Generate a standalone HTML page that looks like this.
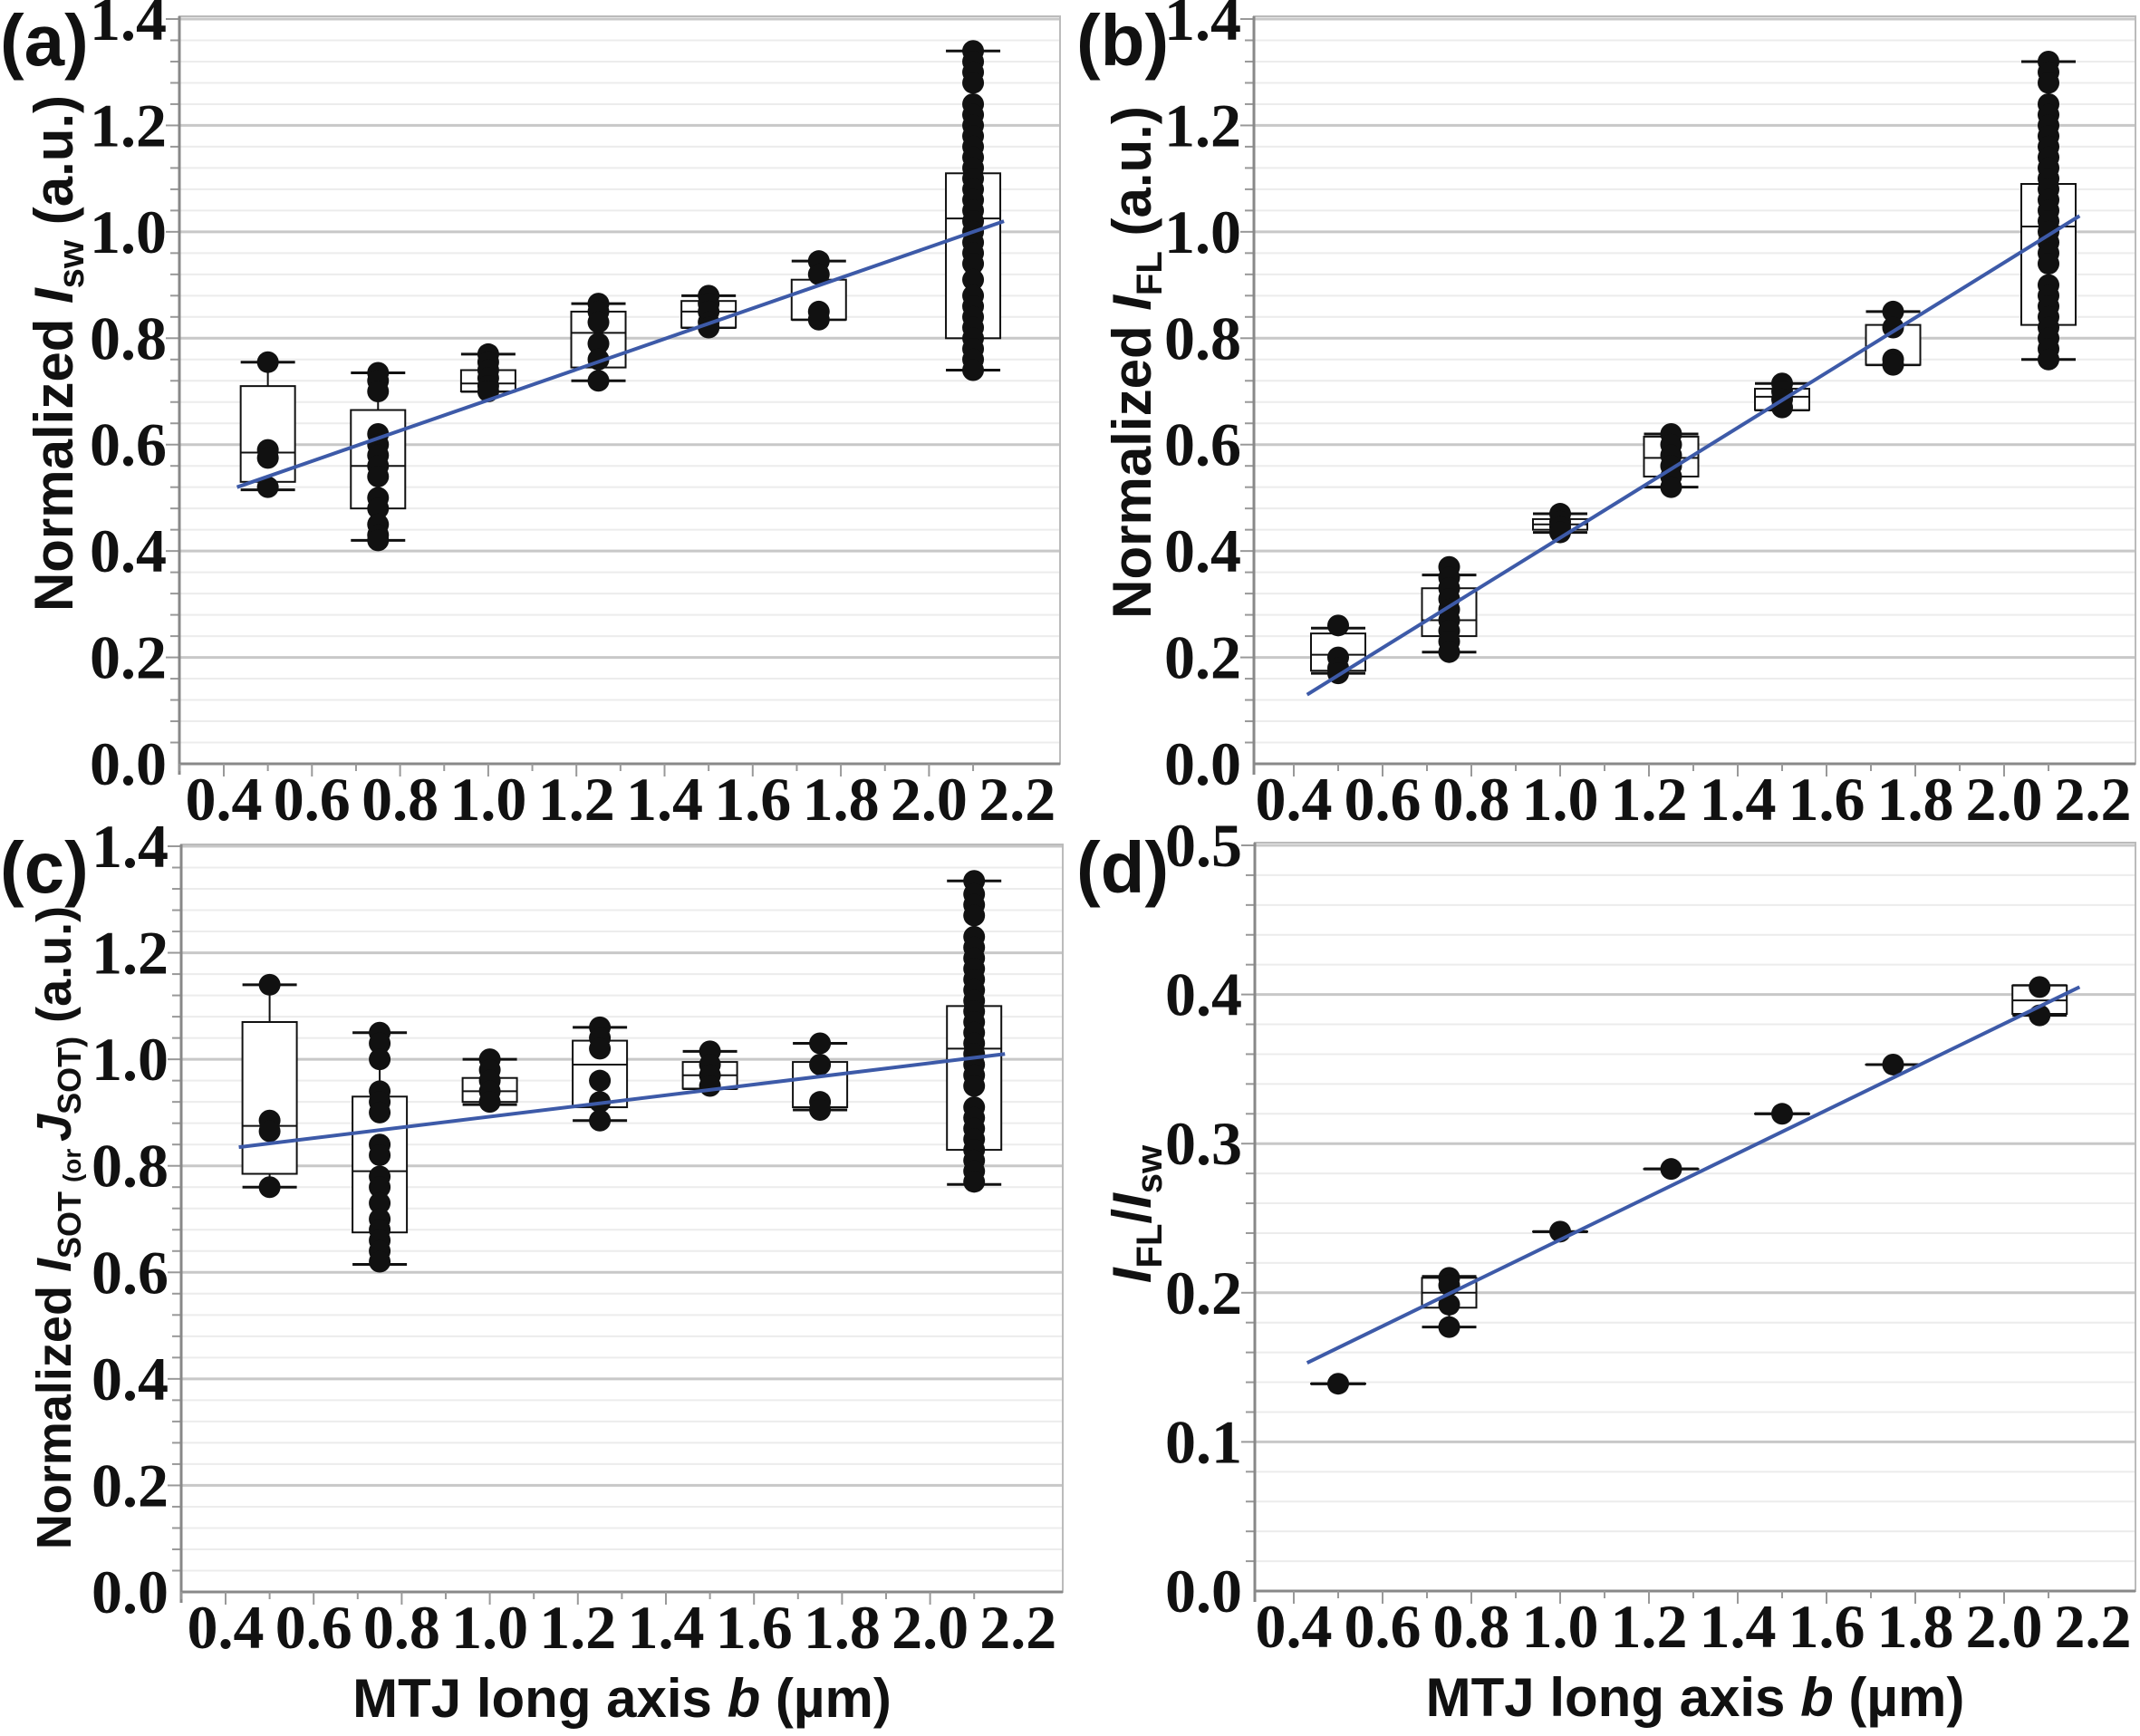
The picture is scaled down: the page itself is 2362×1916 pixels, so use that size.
<!DOCTYPE html>
<html><head><meta charset="utf-8"><style>
html,body{margin:0;padding:0;background:#fff;}
svg{display:block;}
.tk{font-family:"Liberation Serif",serif;font-weight:bold;font-size:68px;fill:#111;}
.tt{font-family:"Liberation Sans",sans-serif;font-weight:bold;font-size:60px;fill:#111;}
.pl{font-family:"Liberation Sans",sans-serif;font-weight:bold;font-size:80px;fill:#111;}
</style></head><body>
<svg id="fig" width="2362" height="1916" viewBox="0 0 2362 1916" xmlns="http://www.w3.org/2000/svg"></svg>
<script>
// x categories (µm)
const xA = [0.5, 0.75, 1.0, 1.25, 1.5, 1.75, 2.1];
const xD = [0.5, 0.75, 1.0, 1.25, 1.5, 1.75, 2.08];
// box stats [q1, median, q3, whiskerLow, whiskerHigh]
const boxA = [[0.53,0.585,0.71,0.515,0.755],[0.48,0.56,0.665,0.42,0.735],[0.70,0.715,0.74,0.70,0.77],[0.745,0.81,0.85,0.72,0.865],[0.82,0.85,0.87,0.82,0.88],[0.835,0.835,0.91,0.835,0.945],[0.80,1.025,1.11,0.74,1.34]];
const ptsA = [[0.755,0.59,0.575,0.52],[0.735,0.72,0.70,0.62,0.60,0.58,0.56,0.54,0.50,0.48,0.45,0.43,0.42],[0.77,0.755,0.74,0.725,0.71,0.70],[0.865,0.85,0.83,0.79,0.76,0.72],[0.88,0.865,0.85,0.83,0.82],[0.945,0.92,0.85,0.835],[1.34,1.32,1.30,1.28,1.24,1.22,1.20,1.18,1.16,1.14,1.12,1.10,1.08,1.06,1.04,1.02,1.00,0.98,0.96,0.94,0.91,0.88,0.86,0.84,0.82,0.80,0.78,0.76,0.74]];
const lineA = [[0.43,0.52],[2.17,1.02]];
const boxB = [[0.175,0.205,0.245,0.17,0.255],[0.24,0.27,0.33,0.21,0.355],[0.44,0.45,0.46,0.435,0.47],[0.54,0.575,0.615,0.52,0.62],[0.665,0.69,0.705,0.665,0.715],[0.75,0.75,0.825,0.75,0.85],[0.825,1.01,1.09,0.76,1.32]];
const ptsB = [[0.26,0.20,0.18,0.17],[0.37,0.35,0.33,0.31,0.29,0.27,0.25,0.23,0.21],[0.47,0.455,0.445,0.435],[0.62,0.60,0.58,0.56,0.54,0.52],[0.715,0.70,0.685,0.67],[0.85,0.82,0.76,0.75],[1.32,1.30,1.28,1.24,1.22,1.20,1.18,1.16,1.14,1.12,1.10,1.08,1.06,1.04,1.02,1.00,0.98,0.96,0.94,0.90,0.88,0.86,0.84,0.82,0.80,0.78,0.76]];
const lineB = [[0.43,0.13],[2.17,1.03]];
const boxC = [[0.785,0.875,1.07,0.76,1.14],[0.675,0.79,0.93,0.615,1.05],[0.92,0.94,0.965,0.915,1.0],[0.91,0.99,1.035,0.885,1.06],[0.945,0.97,0.995,0.945,1.015],[0.91,0.91,0.995,0.905,1.03],[0.83,1.02,1.10,0.765,1.335]];
const ptsC = [[1.14,0.885,0.865,0.76],[1.05,1.03,1.00,0.94,0.92,0.90,0.84,0.82,0.78,0.76,0.73,0.70,0.68,0.66,0.64,0.62],[1.0,0.98,0.96,0.94,0.92],[1.06,1.04,1.02,0.96,0.92,0.885],[1.015,0.99,0.97,0.95],[1.03,0.99,0.92,0.905],[1.335,1.31,1.29,1.27,1.23,1.21,1.19,1.17,1.15,1.13,1.11,1.09,1.07,1.05,1.03,1.01,0.99,0.97,0.95,0.91,0.89,0.87,0.85,0.83,0.81,0.79,0.77]];
const lineC = [[0.43,0.835],[2.17,1.01]];
const boxD = [[0.139,0.139,0.139,0.139,0.139],[0.19,0.20,0.21,0.177,0.211],[0.241,0.241,0.241,0.241,0.241],[0.283,0.283,0.283,0.283,0.283],[0.32,0.32,0.32,0.32,0.32],[0.353,0.353,0.353,0.353,0.353],[0.387,0.396,0.406,0.386,0.406]];
const ptsD = [[0.139],[0.21,0.205,0.192,0.177],[0.241],[0.283],[0.32],[0.353],[0.405,0.386]];
const lineD = [[0.43,0.153],[2.17,0.405]];
const xTicks = ["0.4","0.6","0.8","1.0","1.2","1.4","1.6","1.8","2.0","2.2"];
const yTicks14 = ["0.0","0.2","0.4","0.6","0.8","1.0","1.2","1.4"];
const yTicks05 = ["0.0","0.1","0.2","0.3","0.4","0.5"];

const NS="http://www.w3.org/2000/svg";
const svg=document.getElementById('fig');
function mk(tag,attrs,parent){const e=document.createElementNS(NS,tag);for(const k in attrs)e.setAttribute(k,attrs[k]);(parent||svg).appendChild(e);return e;}

function panel(o){
  const g=mk('g',{});
  
  
  const L=o.left,R=o.right,T=o.top,B=o.y0;
  const sx=v=>o.x04+(v-0.4)/0.2*o.dx;
  const sy=v=>o.y0-(v/o.ymax)*(o.y0-o.ytop);
  const nMinor=Math.round(o.ymax/o.minor);
  for(let i=1;i<=nMinor;i++){const v=i*o.minor;const y=sy(v);
    const isMaj=Math.abs(v/o.major-Math.round(v/o.major))<1e-6;
    const gl=mk('line',{x1:L,x2:R,y1:y,y2:y,stroke:isMaj?'#c8c8c8':'#ececec','stroke-width':isMaj?3:2},g);
    
    
    mk('line',{x1:L-10*(isMaj?1.5:1),x2:L,y1:y,y2:y,stroke:'#999','stroke-width':2},g);
  }
  const fr=mk('rect',{x:L,y:T,width:R-L,height:B-T,fill:'none',stroke:'#bbb','stroke-width':2},g);
  
  
  mk('line',{x1:L,x2:L,y1:T,y2:B+12,stroke:'#888','stroke-width':3},g);
  mk('line',{x1:L,x2:R,y1:B,y2:B,stroke:'#888','stroke-width':3},g);
  o.yt.forEach((t,i)=>{const y=sy(i*o.major);
    const tx=mk('text',{x:L-14,y:y+23,'text-anchor':'end',class:'tk'},g);tx.textContent=t;
    
    });
  for(let i=0;i<=18;i++){const v=0.3+i*0.1;const x=sx(v);if(x<L||x>R)continue;
    mk('line',{x1:x,x2:x,y1:B,y2:B+(i%2?14:8),stroke:'#999','stroke-width':2},g);}
  xTicks.forEach((t,i)=>{const x=sx(0.4+i*0.2);
    const tx=mk('text',{x:x,y:B+62,'text-anchor':'middle',class:'tk'},g);tx.textContent=t;
    
    });
  const hw=30;
  o.xs.forEach((xv,i)=>{const b=o.box[i];const x=sx(xv);
    const bg=mk('g',{},g);
    
    
    mk('line',{x1:x,x2:x,y1:sy(b[3]),y2:sy(b[4]),stroke:'#111','stroke-width':2},bg);
    mk('line',{x1:x-hw,x2:x+hw,y1:sy(b[3]),y2:sy(b[3]),stroke:'#111','stroke-width':3},bg);
    mk('line',{x1:x-hw,x2:x+hw,y1:sy(b[4]),y2:sy(b[4]),stroke:'#111','stroke-width':3},bg);
    mk('rect',{x:x-hw,y:sy(b[2]),width:2*hw,height:Math.max(sy(b[0])-sy(b[2]),0.1),fill:'#fff',stroke:'#111','stroke-width':2},bg);
    mk('line',{x1:x-hw,x2:x+hw,y1:sy(b[1]),y2:sy(b[1]),stroke:'#111','stroke-width':2},bg);
    o.pts[i].forEach(p=>{const c=mk('circle',{cx:x,cy:sy(p),r:12,fill:'#111'},bg);
      
      });
  });
  const fl=mk('line',{x1:sx(o.line[0][0]),y1:sy(o.line[0][1]),x2:sx(o.line[1][0]),y2:sy(o.line[1][1]),stroke:'#3d5aa8','stroke-width':4},g);
  
  
  const pl=mk('text',{x:o.plx,y:o.ply,class:'pl'},g);pl.textContent='('+o.id+')';
  
  
  const yt=mk('text',{transform:`translate(${o.ytx},${o.ytc}) rotate(-90)`,'text-anchor':'middle',class:'tt'},g);
  if(o.ytfs) yt.setAttribute('style','font-size:'+o.ytfs+'px');
  yt.innerHTML=o.ytitle;
  
  
  if(o.xtitle){const xt=mk('text',{x:(L+R)/2,y:B+138,'text-anchor':'middle',class:'tt'},g);
    xt.innerHTML='MTJ long axis <tspan font-style="italic">b</tspan> (µm)';
    
    }
}
const sub='<tspan font-size="40" dy="12">';
const up='<tspan dy="-12">';
const subC='<tspan font-size="36" dy="11">';
const upC='<tspan dy="-11">';
const subO='<tspan font-size="28" dy="11">';
panel({id:'a',left:198,right:1170,top:18,y0:843,ytop:21,ymax:1.4,major:0.2,minor:0.04,x04:247,dx:97.3,xs:xA,box:boxA,pts:ptsA,line:lineA,yt:yTicks14,plx:0,ply:72,ytx:80,ytc:390,
  ytitle:'Normalized <tspan font-style="italic">I</tspan>'+sub+'sw</tspan>'+up+' (a.u.)</tspan>'});
panel({id:'b',left:1384,right:2357,top:18,y0:843,ytop:21,ymax:1.4,major:0.2,minor:0.04,x04:1428,dx:98,xs:xA,box:boxB,pts:ptsB,line:lineB,yt:yTicks14,plx:1188,ply:72,ytx:1270,ytc:400,
  ytitle:'Normalized <tspan font-style="italic">I</tspan>'+sub+'FL</tspan>'+up+' (a.u.)</tspan>'});
panel({id:'c',left:200,right:1173,top:932,y0:1757,ytop:934,ymax:1.4,major:0.2,minor:0.04,x04:249,dx:97.2,xs:xA,box:boxC,pts:ptsC,line:lineC,yt:yTicks14,plx:0,ply:985,ytx:78,ytc:1355,ytfs:54,xtitle:true,
  ytitle:'Normalized <tspan font-style="italic">I</tspan>'+subC+'SOT </tspan><tspan font-size="28">(or </tspan>'+upC+'<tspan font-style="italic">J</tspan></tspan>'+subC+'SOT)</tspan>'+upC+' (a.u.)</tspan>'});
panel({id:'d',left:1385,right:2357,top:930,y0:1756,ytop:933,ymax:0.5,major:0.1,minor:0.02,x04:1428,dx:98,xs:xD,box:boxD,pts:ptsD,line:lineD,yt:yTicks05,plx:1188,ply:985,ytx:1270,ytc:1340,xtitle:true,
  ytitle:'<tspan font-style="italic">I</tspan>'+sub+'FL</tspan>'+up+'/</tspan><tspan font-style="italic">I</tspan>'+sub+'sw</tspan>'});
</script>
</body></html>
